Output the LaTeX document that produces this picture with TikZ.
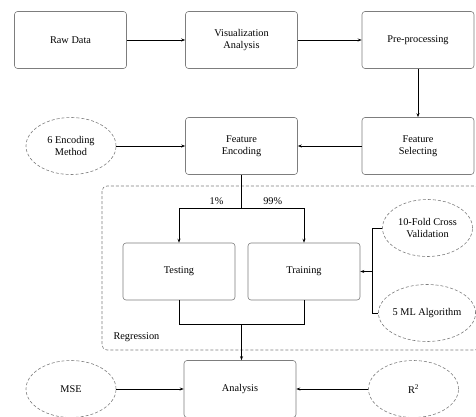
\documentclass[tikz,border=0pt]{standalone}
\usepackage{fontspec}
\setmainfont{Liberation Serif}
\usepackage{tikz}
\usetikzlibrary{
	arrows.meta,
	positioning,
	calc,
	shapes.geometric
}
\usepackage{xcolor}
\definecolor{boxgray}{RGB}{125,125,125}

\begin{document}
\begin{tikzpicture}[x=1pt,y=1pt,
		font=\fontsize{10.3}{11.5}\selectfont,
		stepbox/.style={draw=boxgray,line width=0.6pt,rounded corners=3pt,minimum width=112pt,minimum height=57pt,align=center,inner sep=1pt},
		extra/.style={draw=boxgray,line width=0.6pt,dashed,dash pattern=on 3pt off 2pt,ellipse,minimum width=90pt,minimum height=57pt,align=center,inner sep=0pt},
		flow/.style={-{Stealth[length=4pt,width=3pt]},line width=0.7pt},
		link/.style={line width=0.7pt}]
		
		\useasboundingbox (0,0) rectangle (476,416);
		
		\draw[boxgray,line width=0.6pt,dashed,dash pattern=on 3pt off 2pt,rounded corners=5pt] (102,230) rectangle (480,66);
		
		\node[stepbox] (raw) at (70.5,376) {Raw Data};
		\node[stepbox] (vis) at (241.5,376) {Visualization\\Analysis};
		\node[stepbox] (pre) at (418,376) {Pre-processing};
		\node[stepbox] (sel) at (418,270) {Feature\\Selecting};
		\node[stepbox] (enc) at (241.5,270) {Feature\\Encoding};
		\node[extra] (encm) at (71,270) {6 Encoding\\Method};
		
		\node[stepbox] (test) at (179,144.5) {Testing};
		\node[stepbox] (train) at (304,144.5) {Training};
		\node[extra] (cv) at (427.5,188) {10-Fold Cross\\Validation};
		\node[extra] (ml) at (427,103) {5 ML Algorithm};
		\node[anchor=west] (reg) at (110,79) {Regression};
		
		\node[stepbox] (ana) at (240,27) {Analysis};
		\node[extra] (mse) at (71,27) {MSE};
		\node[extra] (r2) at (413.5,27) {R\textsuperscript{2}};
		
		\draw[flow] (raw) -- (vis);
		\draw[flow] (vis) -- (pre);
		\draw[flow] (pre) -- (sel);
		\draw[flow] (sel) -- (enc);
		\draw[flow] (encm) -- (enc);
		
		\coordinate (split) at (enc.south |- 0,208);
		\draw[link] (enc.south) -- (split);
		\draw[flow] (split) -| node[pos=0.2,above] {1\%} (test.north);
		\draw[flow] (split) -| node[pos=0.25,above] {99\%} (train.north);
		
		\coordinate (brace) at (372,144.5);
		\draw[link] (cv.west) -| (brace);
		\draw[link] (ml.west) -| (brace);
		\draw[flow] (brace) -- (train.east);
		
		\coordinate (merge) at (enc.south |- 0,92);
		\draw[link] (test.south) |- (merge);
		\draw[link] (train.south) |- (merge);
		\draw[flow] (merge) -- (ana.north -| merge);
		
		\draw[flow] (mse) -- (ana);
		\draw[flow] (r2) -- (ana);
		
	\end{tikzpicture}
\end{document}
